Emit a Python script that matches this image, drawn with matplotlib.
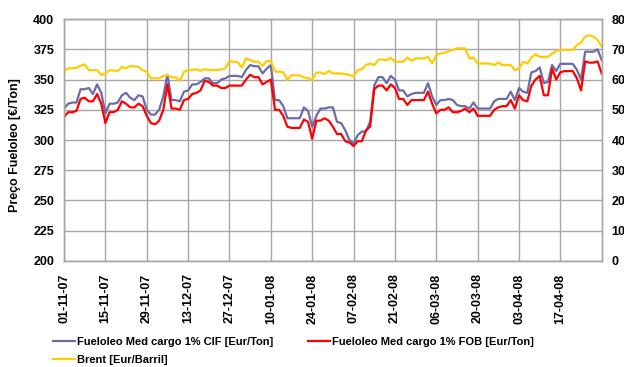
import matplotlib
matplotlib.use('Agg')
import matplotlib.pyplot as plt
import numpy as np

plt.rcParams['font.family'] = ['Liberation Sans', 'DejaVu Sans']
plt.rcParams['font.weight'] = 'bold'

# one label every 10 working days
tick_labels = ['01-11-07', '15-11-07', '29-11-07', '13-12-07', '27-12-07',
               '10-01-08', '24-01-08', '07-02-08', '21-02-08', '06-03-08',
               '20-03-08', '03-04-08', '17-04-08']

# daily quotes, 01-11-07 .. 01-05-08
cif = [326, 330, 331, 331, 342, 342, 343, 338, 346, 339,
       322, 330, 330, 331, 337, 339, 335, 333, 337, 336,
       325, 321, 321, 325, 336, 354, 333, 333, 332, 340,
       341, 346, 346, 348, 351, 351, 347, 347, 350, 351,
       353, 353, 353, 352, 358, 362, 361, 361, 355, 359,
       362, 333, 333, 328, 318, 318, 318, 318, 327, 324,
       311, 320, 326, 326, 327, 327, 315, 314, 308, 300,
       297, 304, 307, 307, 315, 345, 352, 352, 347, 353,
       350, 341, 341, 336, 338, 339, 339, 339, 347, 336,
       329, 333, 333, 334, 333, 329, 328, 328, 326, 331,
       326, 326, 326, 326, 332, 334, 334, 334, 340, 333,
       343, 340, 339, 356, 357, 360, 347, 348, 362, 357,
       363, 363, 363, 363, 358, 350, 373, 373, 373, 375,
       366]

fob = [319, 323, 323, 324, 334, 335, 332, 332, 338, 330,
       314, 323, 323, 325, 332, 330, 327, 327, 330, 328,
       320, 314, 313, 316, 325, 346, 326, 326, 325, 333,
       334, 338, 339, 341, 349, 348, 345, 345, 343, 343,
       345, 345, 345, 345, 350, 354, 352, 352, 346, 348,
       350, 325, 325, 320, 311, 310, 310, 310, 317, 315,
       301, 316, 316, 318, 316, 311, 305, 305, 299, 298,
       295, 299, 299, 308, 311, 342, 345, 345, 341, 346,
       343, 334, 334, 329, 333, 333, 333, 333, 340, 330,
       322, 325, 325, 327, 323, 323, 324, 326, 323, 326,
       320, 320, 320, 320, 325, 327, 328, 328, 333, 326,
       337, 333, 332, 345, 350, 353, 337, 337, 359, 350,
       356, 357, 357, 357, 351, 341, 365, 364, 364, 365,
       355]

brent = [62.8, 63.7, 63.7, 63.9, 64.6, 65.0, 63.1, 63.1, 63.1, 61.5,
         62.0, 63.1, 63.0, 62.8, 64.2, 63.7, 64.5, 64.3, 64.2, 63.1,
         62.6, 60.4, 60.4, 60.4, 61.2, 61.5, 60.7, 60.7, 59.6, 62.6,
         63.1, 63.2, 63.4, 62.9, 63.4, 63.2, 63.1, 63.2, 63.4, 63.7,
         66.1, 65.9, 65.8, 63.9, 67.0, 66.4, 65.9, 65.9, 64.5, 66.1,
         66.1, 62.6, 62.6, 62.4, 59.8, 61.5, 61.4, 61.3, 60.7, 60.5,
         59.8, 62.3, 62.3, 61.8, 62.9, 62.0, 62.0, 62.0, 61.8, 61.5,
         60.9, 63.1, 63.4, 64.8, 65.3, 64.8, 66.5, 66.7, 66.4, 67.2,
         65.9, 65.9, 65.9, 67.3, 66.2, 67.0, 67.0, 67.0, 67.5, 65.3,
         68.1, 68.6, 68.9, 69.3, 69.8, 70.3, 70.3, 70.3, 67.0, 67.3,
         65.3, 65.3, 65.3, 65.3, 64.8, 65.6, 64.8, 64.8, 64.8, 63.1,
         63.7, 65.9, 65.3, 67.3, 68.4, 67.5, 67.5, 67.5, 68.5, 69.5,
         69.8, 69.8, 69.8, 69.8, 71.4, 72.2, 74.2, 74.7, 74.2, 73.1,
         70.9]

x = np.arange(len(cif))
grey = '#a6a6a6'

fig = plt.figure(figsize=(6.24, 3.67), dpi=100)
ax = fig.add_axes([0.1026, 0.289, 0.8617, 0.659])
ax2 = ax.twinx()

l1, = ax.plot(x, cif, color='#6b6ba6', lw=1.6, label='Fueloleo Med cargo 1% CIF [Eur/Ton]')
l2, = ax.plot(x, fob, color='#ff0000', lw=1.6, label='Fueloleo Med cargo 1% FOB [Eur/Ton]')
l3, = ax2.plot(x, brent, color='#ffcc00', lw=1.6, label='Brent [Eur/Barril]')

ax.set_xlim(0, len(cif) - 1)
ax.set_ylim(200, 400)
ax.set_yticks(np.arange(200, 401, 25))
ax2.set_ylim(0, 80)
ax2.set_yticks(np.arange(0, 81, 10))
ax.set_xticks(np.arange(0, 10 * len(tick_labels), 10))
ax.set_xticklabels(tick_labels, rotation=90)

ax.set_axisbelow(True)
ax.grid(True, color=grey, lw=1)
for a in (ax, ax2):
    for s in a.spines.values():
        s.set_color(grey)
        s.set_linewidth(1)
ax.tick_params(axis='both', length=0, labelsize=9, pad=7)
ax.tick_params(axis='x', pad=9)
ax2.tick_params(axis='y', length=0, labelsize=9, pad=7)

ax.set_ylabel('Preço Fueloleo [€/Ton]', fontsize=9, fontweight='bold')
ax.yaxis.set_label_coords(-0.08, 0.48)

fig.legend([l1, l3, l2], [l1.get_label(), l3.get_label(), l2.get_label()],
           ncol=2, loc='upper left', bbox_to_anchor=(0.085, 0.083), frameon=False,
           fontsize=8, handlelength=2.0, handletextpad=0.15, columnspacing=3.1,
           labelspacing=0.75, borderaxespad=0, borderpad=0)

fig.savefig('out.png', dpi=100)
